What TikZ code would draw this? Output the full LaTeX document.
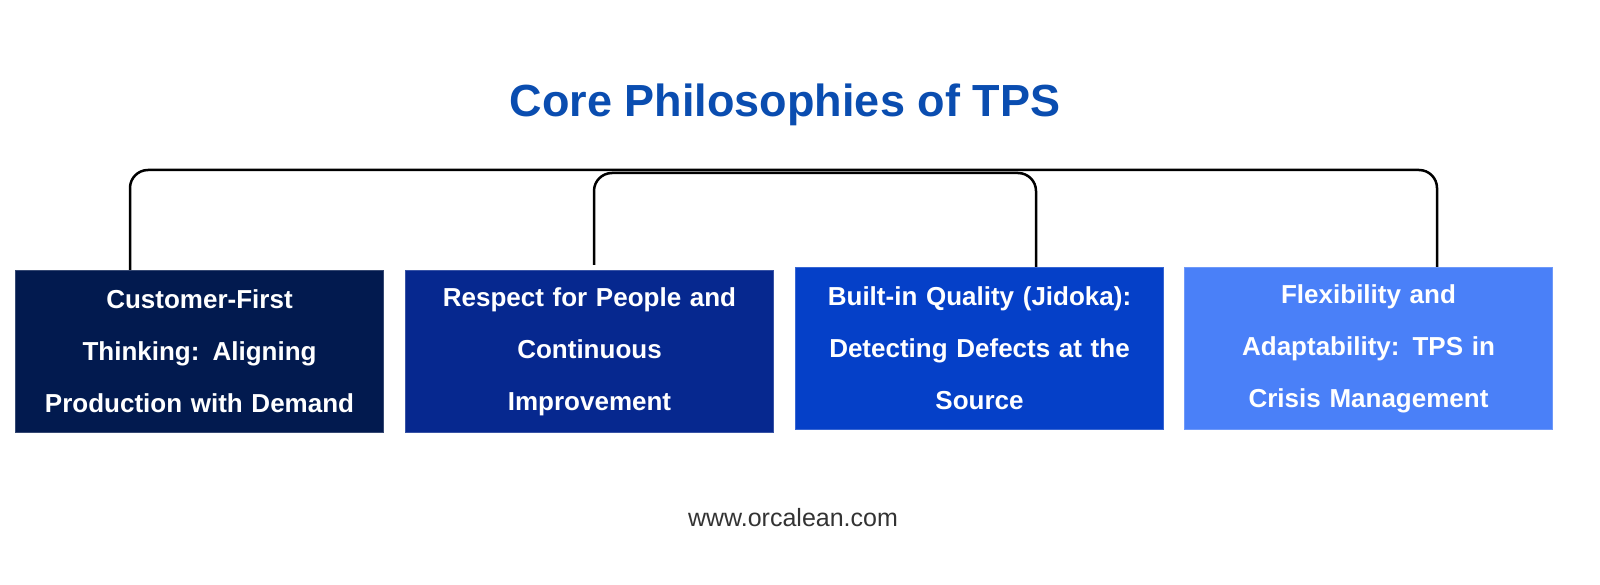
\documentclass[tikz,border=0pt]{standalone}
\usepackage{fontspec}
\setmainfont{Liberation Sans}
\begin{document}
\begin{tikzpicture}[x=1pt,y=1pt,
  boxs/.style={draw=#1!80!white,fill=#1,line width=1pt,minimum width=368pt,minimum height=162pt,anchor=north west,inner sep=0pt,text=white,font=\fontsize{26}{52}\selectfont\bfseries,align=center,text width=364pt},
  conn/.style={line width=2.5pt,rounded corners=18pt}]
\definecolor{cA}{HTML}{021A4F}
\definecolor{cB}{HTML}{06288F}
\definecolor{cC}{HTML}{0540C8}
\definecolor{cD}{HTML}{4A80F8}
\definecolor{tblue}{HTML}{0A4DB0}
\fill[white] (0,0) rectangle (1600,584);
\node[text=tblue,font=\fontsize{45}{50}\selectfont\bfseries] (title) at (785,479) {Core Philosophies of TPS};
\node[boxs=cA] (b1) at (15,314) {Customer-First\\Thinking: Aligning\\Production with Demand};
\node[boxs=cB] (b2) at (405,314) {Respect for People and\\Continuous\\Improvement};
\node[boxs=cC] (b3) at (795,317) {Built-in Quality (Jidoka):\\Detecting Defects at the\\Source};
\node[boxs=cD] (b4) at (1184,317) {Flexibility and\\Adaptability: TPS in\\Crisis Management};
\coordinate (t1) at (130,414);
\coordinate (t4) at (1437,414);
\coordinate (t2) at (594,411);
\coordinate (t3) at (1036,411);
\coordinate (e2) at (594,319);
\draw[conn] (b1.north west -| t1) -- (t1) -- (t4) -- (b4.north west -| t4);
\draw[conn] (e2) -- (t2) -- (t3) -- (b3.north west -| t3);
\node[text=black!80,font=\fontsize{25}{28}\selectfont] (foot) at (793,66) {www.orcalean.com};
\pgfresetboundingbox
\useasboundingbox (0,0) rectangle (1600,584);
\end{tikzpicture}
\end{document}
